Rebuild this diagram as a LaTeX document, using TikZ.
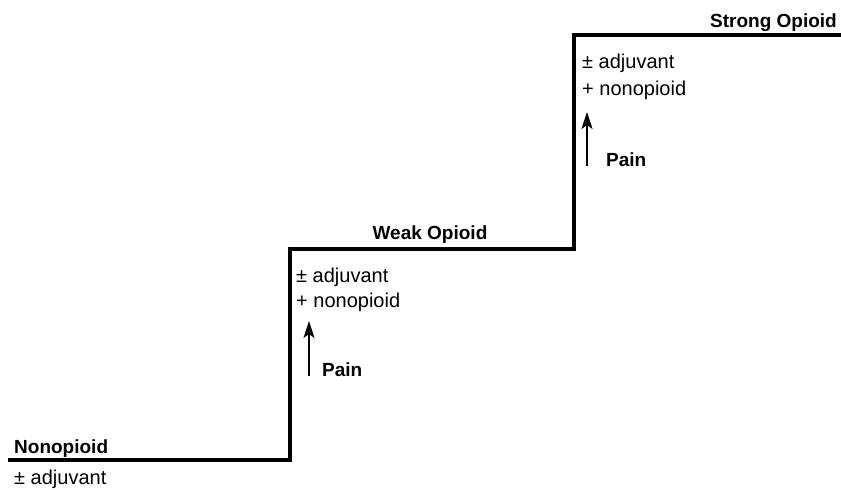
\documentclass[tikz,border=0pt]{standalone}
\usepackage{fontspec}
\setmainfont{Liberation Sans}
\usetikzlibrary{arrows.meta}
\begin{document}
\begin{tikzpicture}[x=1pt,y=-1pt,
  stair/.style={line width=3.2pt},
  level/.style={font=\bfseries\fontsize{19}{22}\selectfont, inner sep=0pt},
  drug/.style={font=\fontsize{20}{23}\selectfont, inner sep=0pt, anchor=base west},
  painlbl/.style={font=\bfseries\fontsize{19}{22}\selectfont, inner sep=0pt, anchor=base west},
  painarrow/.style={line width=2pt,-{Stealth[length=17pt,width=11pt,inset=4pt]}}]
\useasboundingbox (0,0) rectangle (841,490);
\coordinate (s0) at (8,460);
\coordinate (c1) at (290,460);
\coordinate (c2) at (290,249);
\coordinate (c3) at (574,249);
\coordinate (c4) at (574,35);
\coordinate (s1) at (841,35);
\draw[stair] (s0) -- (c1) -- (c2) -- (c3) -- (c4) -- (s1);
% level names
\node[level, anchor=base west] (n1) at (14,453) {Nonopioid};
\node[level, anchor=base] (n2) at (430,239) {Weak Opioid};
\node[level, anchor=base east] (n3) at (837,27) {Strong Opioid};
% step 1
\node[drug] (a1) at (14,484) {± adjuvant};
% step 2
\node[drug] (a2) at (296,282) {± adjuvant};
\node[drug] (b2) at (296,307) {+ nonopioid};
\coordinate (p2s) at (309,376);
\coordinate (p2e) at (309,321);
\draw[painarrow] (p2s) -- (p2e);
\node[painlbl] (p2) at (322,376) {Pain};
% step 3
\node[drug] (a3) at (582,68) {± adjuvant};
\node[drug] (b3) at (582,95) {+ nonopioid};
\coordinate (p3s) at (587,166);
\coordinate (p3e) at (587,112);
\draw[painarrow] (p3s) -- (p3e);
\node[painlbl] (p3) at (606,166) {Pain};
\end{tikzpicture}
\end{document}
